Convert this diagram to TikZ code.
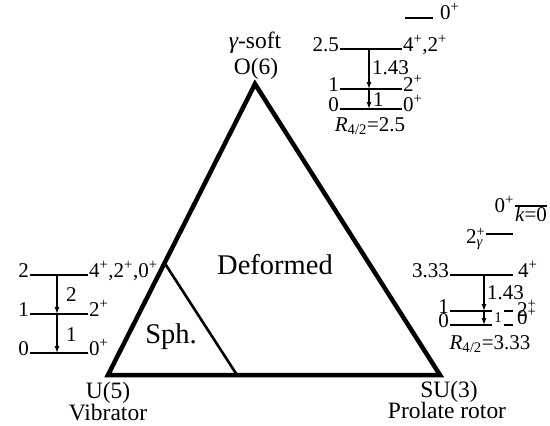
\documentclass[tikz,border=0pt]{standalone}
\usepackage{fontspec}
\setmainfont{Liberation Serif}
\usetikzlibrary{arrows.meta,positioning,calc}

\newcommand{\jp}[1]{#1\textsuperscript{+}}
\newcommand{\rfour}[1]{\textit{R}\textsubscript{4/2}=#1}

\begin{document}
\begin{tikzpicture}[x=1pt,y=-1pt,
    lbl/.style={font=\fontsize{23.5}{25}\selectfont,inner sep=1pt},
    lev/.style={font=\fontsize{21}{23}\selectfont,inner sep=1pt},
    big/.style={font=\fontsize{28.5}{30}\selectfont,inner sep=0pt},
    lvl/.style={line width=1.9pt},
    trans/.style={line width=1.3pt,-{Latex[length=7pt,width=5pt]}},
    side/.style={line width=4.5pt,line join=miter}]

    \useasboundingbox (0,0) rectangle (550,426);

    % the triangle
    \coordinate (O6) at (255,84);
    \coordinate (U5) at (108,375);
    \coordinate (SU3) at (440,375);
    \draw[side] (O6) -- (U5) -- (SU3) -- cycle;
    \coordinate (sphA) at ($(U5)!0.385!(O6)$);
    \coordinate (sphB) at (237,375);
    \draw[line width=2.6pt] (sphA) -- (sphB);

    % corner names and regions
    \node[lbl] (gsoft) at (255,43) {{\itshape γ}-soft};
    \node[lbl] (o6lab) at (256,69) {O(6)};
    \node[lbl,anchor=base] (u5lab) at (108,398) {U(5)};
    \node[lbl,anchor=base] (vib) at (108,420) {Vibrator};
    \node[lbl,anchor=base] (su3lab) at (449,397) {SU(3)};
    \node[lbl,anchor=base] (rot) at (447,418) {Prolate rotor};
    \node[big] (def) at (275,265) {Deformed};
    \node[big] (sph) at (171,337) {Sph.};

    % U(5) levels
    \foreach \y/\e/\s/\n in {275/2/{\jp4,\jp2,\jp0}/a, 314/1/{\jp2}/b, 353/0/{\jp0}/c} {
      \coordinate (u\n l) at (30,\y);
      \coordinate (u\n r) at (88,\y);
      \draw[lvl] (u\n l) -- (u\n r);
      \node[lev,anchor=mid east] (ue\n) at (u\n l) {\e};
      \node[lev,anchor=mid west] (us\n) at (u\n r) {\s};
    }
    \draw[trans] ([xshift=27pt]ual) -- ([xshift=27pt]ubl);
    \draw[trans] ([xshift=27pt]ubl) -- ([xshift=27pt]ucl);
    \node[lev,anchor=west] (ut1) at (65,295) {2};
    \node[lev,anchor=west] (ut2) at (65,335) {1};

    % O(6) levels
    \coordinate (otl) at (405,18);
    \coordinate (otr) at (433,18);
    \draw[lvl] (otl) -- (otr);
    \node[lev,anchor=mid west] (ots) at ([xshift=6pt,yshift=1pt]otr) {\jp0};
    \foreach \y/\e/\s/\n in {49/2.5/{\jp4,\jp2}/a, 89/1/{\jp2}/b, 109/0/{\jp0}/c} {
      \coordinate (o\n l) at (340,\y);
      \coordinate (o\n r) at (402,\y);
      \draw[lvl] (o\n l) -- (o\n r);
      \node[lev,anchor=mid east] (oe\n) at (o\n l) {\e};
      \node[lev,anchor=mid west] (os\n) at (o\n r) {\s};
    }
    \draw[trans] ([xshift=29pt]oal) -- ([xshift=29pt]obl);
    \draw[trans] ([xshift=29pt]obl) -- ([xshift=29pt]ocl);
    \node[lev,anchor=west] (ot1) at (371,68) {1.43};
    \node[lev,anchor=west] (ot2) at (372,100) {1};
    \node[lev] (or) at (370,126) {\rfour{2.5}};

    % SU(3) levels
    \coordinate (skl) at (515,206);
    \coordinate (skr) at (547,206);
    \draw[lvl] (skl) -- (skr);
    \node[lev,anchor=mid east] (sks) at ([yshift=-4pt]skl) {\jp0};
    \node[lev,anchor=north,inner sep=0pt] (skk) at ($(skl)!0.5!(skr)+(0,1)$) {\textit{k}=0};
    \coordinate (sgl) at (486,234);
    \coordinate (sgr) at (513,234);
    \draw[lvl] (sgl) -- (sgr);
    \node[lev,anchor=east] (sgs) at ([xshift=-2pt,yshift=-5pt]sgl) {2\rlap{\textsuperscript{+}}\textsubscript{\itshape γ}};
    \foreach \y/\e/\s/\n in {275/3.33/{\jp4}/a, 311/1/{\jp2}/b, 325/0/{\jp0}/c} {
      \coordinate (s\n l) at (450,\y);
      \coordinate (s\n r) at (513,\y);
      \draw[lvl] (s\n l) -- (s\n r);
      \node[lev,anchor=mid east] (se\n) at (s\n l) {\e};
    }
    \node[lev,anchor=mid west] (ssa) at ([xshift=4pt]sar) {\jp4};
    \node[lev,anchor=mid west] (ssb) at ([xshift=3pt,yshift=-3pt]sbr) {\jp2};
    \node[lev,anchor=mid west] (ssc) at ([xshift=3pt,yshift=3pt]scr) {\jp0};
    \draw[trans] ([xshift=34pt]sal) -- ([xshift=34pt]sbl);
    \draw[trans] ([xshift=34pt]sbl) -- ([xshift=34pt]scl);
    \node[lev,anchor=west] (st1) at (486,293) {1.43};
    \node[font=\fontsize{15}{16}\selectfont,fill=white,inner xsep=2pt,
          inner ysep=0pt,minimum height=20pt] (st2) at (498,318) {1};
    \node[lev] (sr) at (490,344) {\rfour{3.33}};
  \end{tikzpicture}
\end{document}
